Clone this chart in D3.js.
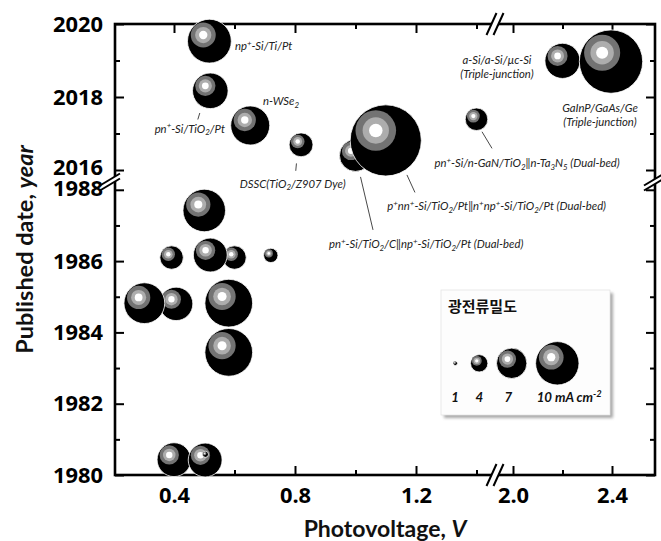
<!DOCTYPE html>
<html><head><meta charset="utf-8">
<script src="https://cdn.jsdelivr.net/npm/d3@7"></script>
<style>body{margin:0;background:#fff} svg{display:block}</style>
</head><body>
<svg id="chart" width="661" height="541"></svg>
<script>
// ---------------- DATA ----------------
const names = [
  "np^{+}-Si/Ti/Pt",
  "pn^{+}-Si/TiO_{2}/Pt",
  "n-WSe_{2}",
  "DSSC(TiO_{2}/Z907 Dye)",
  "pn^{+}-Si/TiO_{2}/C‖np^{+}-Si/TiO_{2}/Pt (Dual-bed)",
  "p^{+}nn^{+}-Si/TiO_{2}/Pt‖n^{+}np^{+}-Si/TiO_{2}/Pt (Dual-bed)",
  "pn^{+}-Si/n-GaN/TiO_{2}‖n-Ta_{3}N_{5} (Dual-bed)",
  "a-Si/a-Si/µc-Si\n(Triple-junction)",
  "GaInP/GaAs/Ge\n(Triple-junction)",
  "", "", "", "", "", "", "", "", "", "", "", ""
];
const voltage = [0.517, 0.52, 0.652, 0.82, 1.0, 1.10, 1.40, 2.2, 2.396,
                 0.407, 0.302, 0.50, 0.392, 0.60, 0.52, 0.72, 0.581, 0.581, 0.40, 0.503, 0.504];
const year    = [2019.53, 2018.17, 2017.22, 2016.69, 2016.40, 2016.81, 2017.39, 2018.99, 2018.97,
                 1984.80, 1984.82, 1987.42, 1986.10, 1986.10, 1986.17, 1986.16, 1984.82, 1983.44, 1980.43, 1980.42, 1980.58];
const current = [10.1, 8.2, 9.0, 5.5, 7.4, 16.4, 5.2, 8.1, 14.6,
                 7.7, 9.4, 9.8, 5.4, 5.4, 7.8, 3.3, 11.0, 11.0, 7.8, 7.8, 1.4];

const legendValues = [1, 4, 7, 10];
const legendLabels = ["1", "4", "7", "10 mA cm^{-2}"];
const legendTitle = "광전류밀도";

const xMajorLow = [0.4, 0.8, 1.2];
const xMinorLow = [0.6, 1.0, 1.4];
const xMajorHigh = [2.0, 2.4];
const xMinorHigh = [2.2];
const yMajorNew = [2016, 2018, 2020];
const yMinorNew = [2017, 2019];
const yMajorOld = [1980, 1982, 1984, 1986, 1988];
const yMinorOld = [1981, 1983, 1985, 1987];

const xTitle = ["Photovoltage, ", "V"];
const yTitle = ["Published date, ", "year"];

// ---------------- LAYOUT ----------------
const L = 115, R = 655, T = 24, B = 475;
const xBreak = 495, yBreak = 182;

const xLow = d3.scaleLinear().domain([0.4, 1.2]).range([174, 416]);
const xHigh = d3.scaleLinear().domain([2.0, 2.4]).range([513, 612]);
const yNew = d3.scaleLinear().domain([2016, 2020]).range([170, 24]);
const yOld = d3.scaleLinear().domain([1980, 1988]).range([475, 189.8]);
const rScale = d3.scaleLinear().domain([0, 10]).range([0, 21.7]);
const X = v => v < 1.7 ? xLow(v) : xHigh(v);
const Y = y => y > 2000 ? yNew(y) : yOld(y);

const labelLayout = [
  {anchor: 'start',  dx: 25.5,  dy: [4.7]},
  {anchor: 'middle', dx: -20.5, dy: [38],   leader: [-10.5, 22.2, -12.5, 28.7]},
  {anchor: 'start',  dx: 12.7,  dy: [-24.5]},
  {anchor: 'middle', dx: -8.3,  dy: [39],   leader: [-4.6, 18.6, -5.3, 26]},
  {anchor: 'start',  dx: -26.5, dy: [88.5], leader: [5, 21.5, 17.5, 74.5]},
  {anchor: 'start',  dx: 1.5,   dy: [66],   leader: [21.2, 34.5, 29.2, 52]},
  {anchor: 'start',  dx: -42,   dy: [43.8], leader: [5.5, 12.5, 15.5, 29.1]},
  {anchor: 'middle', dx: -65.5, dy: [-0.8, 13.2]},
  {anchor: 'middle', dx: -11,   dy: [46, 60.6]}
];

const svg = d3.select('#chart');
const FONT = "Lato, 'Open Sans', 'DejaVu Sans', sans-serif";
const TICKFONT = "'Open Sans', Lato, sans-serif";

// rich text helper: ^{..} superscript, _{..} subscript
function rich(textSel, str, fs) {
  const parts = str.split(/([\^_]\{[^}]*\})/).filter(s => s.length);
  let shift = 0;
  parts.forEach(p => {
    let target = 0, content = p, size = null;
    if (p[0] === '^') { target = -0.38 * fs; content = p.slice(2, -1); size = fs * 0.7; }
    else if (p[0] === '_') { target = 0.24 * fs; content = p.slice(2, -1); size = fs * 0.7; }
    const t = textSel.append('tspan').attr('dy', target - shift).text(content);
    if (size) t.attr('font-size', size);
    shift = target;
  });
}
// fit a font size so that a sample string reaches a target width
function fitSize(str, family, weight, style, base, target) {
  const t = svg.append('text').attr('font-family', family).attr('font-weight', weight)
    .attr('font-style', style).attr('font-size', base);
  rich(t, str, base);
  const w = t.node().getComputedTextLength();
  t.remove();
  return w > 0 ? base * target / w : base;
}

const AFS = fitSize(names[5], FONT, 400, 'italic', 12, 219);
const TFS = fitSize("2020", TICKFONT, 700, 'normal', 21, 50);
const XTFS = fitSize(xTitle.join(''), FONT, 700, 'normal', 23, 163);
const YTFS = fitSize(yTitle.join(''), FONT, 700, 'normal', 23, 210);
const LFS = fitSize(legendLabels[3], FONT, 700, 'italic', 12.5, 65);
const LTFS = fitSize(legendTitle, "'Noto Sans CJK KR', sans-serif", 700, 'normal', 14, 69);

// bubble
function bubble(g, cx, cy, r) {
  const b = g.append('g');
  b.append('circle').attr('cx', cx).attr('cy', cy).attr('r', r)
    .attr('fill', '#000').attr('stroke', '#fff').attr('stroke-width', 0.8);
  const hx = cx - 0.28 * r, hy = cy - 0.28 * r;
  [[0.57, '#737373'], [0.37, '#adadad'], [0.19, '#ffffff']].forEach(([f, c]) => {
    b.append('circle').attr('cx', hx).attr('cy', hy).attr('r', f * r).attr('fill', c);
  });
}

// ---------------- AXES / FRAME ----------------
const axG = svg.append('g');
function styleAxis(g) {
  g.select('.domain').remove();
  g.selectAll('.tick line').attr('stroke', '#000').attr('stroke-width', 2);
  g.selectAll('.tick text').attr('font-family', TICKFONT).attr('font-weight', 700)
    .attr('font-size', TFS).attr('fill', '#000');
}
// left
axG.append('g').attr('transform', `translate(${L},0)`)
  .call(d3.axisLeft(yNew).tickValues(yMajorNew).tickSize(-9).tickPadding(12).tickFormat(d3.format('d'))).call(styleAxis)
  .call(g => g.selectAll('.tick text').filter(d => d === 2016).attr('dy', '0.22em'));
axG.append('g').attr('transform', `translate(${L},0)`)
  .call(d3.axisLeft(yOld).tickValues(yMajorOld).tickSize(-9).tickPadding(12).tickFormat(d3.format('d'))).call(styleAxis)
  .call(g => g.selectAll('.tick text').filter(d => d === 1988).attr('dy', '0.28em'));
axG.append('g').attr('transform', `translate(${L},0)`)
  .call(d3.axisLeft(yNew).tickValues(yMinorNew).tickSize(-5).tickFormat('')).call(styleAxis);
axG.append('g').attr('transform', `translate(${L},0)`)
  .call(d3.axisLeft(yOld).tickValues(yMinorOld).tickSize(-5).tickFormat('')).call(styleAxis);
// right
[[yNew, yMajorNew, 9], [yNew, yMinorNew, 5], [yOld, yMajorOld, 9], [yOld, yMinorOld, 5]].forEach(([s, v, k]) => {
  axG.append('g').attr('transform', `translate(${R},0)`)
    .call(d3.axisRight(s).tickValues(v).tickSize(-k).tickFormat('')).call(styleAxis);
});
// bottom
axG.append('g').attr('transform', `translate(0,${B})`)
  .call(d3.axisBottom(xLow).tickValues(xMajorLow).tickSize(-9).tickPadding(12).tickFormat(d3.format('.1f'))).call(styleAxis);
axG.append('g').attr('transform', `translate(0,${B})`)
  .call(d3.axisBottom(xHigh).tickValues(xMajorHigh).tickSize(-9).tickPadding(12).tickFormat(d3.format('.1f'))).call(styleAxis);
axG.append('g').attr('transform', `translate(0,${B})`)
  .call(d3.axisBottom(xLow).tickValues(xMinorLow).tickSize(-5).tickFormat('')).call(styleAxis);
axG.append('g').attr('transform', `translate(0,${B})`)
  .call(d3.axisBottom(xHigh).tickValues(xMinorHigh).tickSize(-5).tickFormat('')).call(styleAxis);
// top
[[xLow, xMajorLow, 9], [xLow, xMinorLow, 5], [xHigh, xMajorHigh, 9], [xHigh, xMinorHigh, 5]].forEach(([s, v, k]) => {
  axG.append('g').attr('transform', `translate(0,${T})`)
    .call(d3.axisTop(s).tickValues(v).tickSize(-k).tickFormat('')).call(styleAxis);
});

// frame
axG.append('rect').attr('x', L).attr('y', T).attr('width', R - L).attr('height', B - T)
  .attr('fill', 'none').attr('stroke', '#000').attr('stroke-width', 2.6);

// ---------------- BUBBLES ----------------
const bG = svg.append('g');
voltage.forEach((v, i) => bubble(bG, X(v), Y(year[i]), rScale(current[i])));

// breaks
const brG = svg.append('g');
function xBreakMark(cx, cy) {
  brG.append('polygon')
    .attr('points', [[cx - 3.5 - 4, cy + 9], [cx - 3.5 + 4, cy - 9], [cx + 3.5 + 4, cy - 9], [cx + 3.5 - 4, cy + 9]].join(' '))
    .attr('fill', '#fff');
  [-3.5, 3.5].forEach(o => brG.append('line')
    .attr('x1', cx + o - 5).attr('y1', cy + 11).attr('x2', cx + o + 5).attr('y2', cy - 11)
    .attr('stroke', '#000').attr('stroke-width', 2));
}
function yBreakMark(ax, cx, cy) {
  const s = 0.6; // slope
  const yAt = (x, o) => cy + o - s * (x - cx);
  brG.append('polygon')
    .attr('points', [[ax - 3, yAt(ax - 3, -2.5)], [ax + 3, yAt(ax + 3, -2.5)], [ax + 3, yAt(ax + 3, 2.5)], [ax - 3, yAt(ax - 3, 2.5)]].join(' '))
    .attr('fill', '#fff');
  [-2.5, 2.5].forEach(o => brG.append('line')
    .attr('x1', cx - 10).attr('y1', yAt(cx - 10, o)).attr('x2', cx + 10).attr('y2', yAt(cx + 10, o))
    .attr('stroke', '#000').attr('stroke-width', 2));
}
xBreakMark(xBreak, T); xBreakMark(xBreak, B);
yBreakMark(L, L - 5, yBreak); yBreakMark(R, R - 1, yBreak);

// ---------------- LABELS ----------------
const lG = svg.append('g');
labelLayout.forEach((lay, i) => {
  const cx = X(voltage[i]), cy = Y(year[i]);
  if (lay.leader) {
    lG.append('line')
      .attr('x1', cx + lay.leader[0]).attr('y1', cy + lay.leader[1])
      .attr('x2', cx + lay.leader[2]).attr('y2', cy + lay.leader[3])
      .attr('stroke', '#333').attr('stroke-width', 0.9);
  }
  names[i].split('\n').forEach((line, j) => {
    const t = lG.append('text')
      .attr('x', cx + lay.dx).attr('y', cy + lay.dy[j] + AFS * 0.35)
      .attr('text-anchor', lay.anchor)
      .attr('font-family', FONT).attr('font-style', 'italic')
      .attr('font-size', AFS).attr('fill', '#222');
    rich(t, line, AFS);
  });
});

// ---------------- LEGEND ----------------
const legG = svg.append('g');
const defs = svg.append('defs');
defs.append('filter').attr('id', 'blur').append('feGaussianBlur').attr('stdDeviation', 1.6);
legG.append('rect').attr('x', 444).attr('y', 293).attr('width', 169).attr('height', 125)
  .attr('fill', '#a8a8a8').attr('filter', 'url(#blur)');
legG.append('rect').attr('x', 441).attr('y', 290).attr('width', 169).attr('height', 125)
  .attr('fill', '#fdfdfd').attr('stroke', '#e4e4e4').attr('stroke-width', 0.8);
legG.append('text').attr('x', 448).attr('y', 312)
  .attr('font-family', "'Noto Sans CJK KR', sans-serif").attr('font-weight', 700)
  .attr('font-size', LTFS).attr('fill', '#111').text(legendTitle);
const legX = [455.3, 479.2, 511.7, 557.3];
const legLabelX = [455, 479.3, 508.3, 536.7];
legendValues.forEach((v, i) => {
  bubble(legG, legX[i], 363.3, rScale(v));
  const t = legG.append('text').attr('x', legLabelX[i]).attr('y', 402)
    .attr('text-anchor', i < 3 ? 'middle' : 'start')
    .attr('font-family', FONT).attr('font-style', 'italic').attr('font-weight', 700)
    .attr('font-size', LFS).attr('fill', '#111');
  rich(t, legendLabels[i], LFS);
});

// ---------------- TITLES ----------------
const xt = svg.append('text').attr('x', (L + R) / 2).attr('y', 536.5).attr('text-anchor', 'middle')
  .attr('font-family', FONT).attr('font-weight', 700).attr('font-size', XTFS).attr('fill', '#111');
xt.append('tspan').text(xTitle[0]);
xt.append('tspan').attr('font-style', 'italic').text(xTitle[1]);
const yt = svg.append('text').attr('transform', `translate(32.5,${(T + B) / 2}) rotate(-90)`)
  .attr('text-anchor', 'middle')
  .attr('font-family', FONT).attr('font-weight', 700).attr('font-size', YTFS).attr('fill', '#111');
yt.append('tspan').text(yTitle[0]);
yt.append('tspan').attr('font-style', 'italic').text(yTitle[1]);
</script>
</body></html>
